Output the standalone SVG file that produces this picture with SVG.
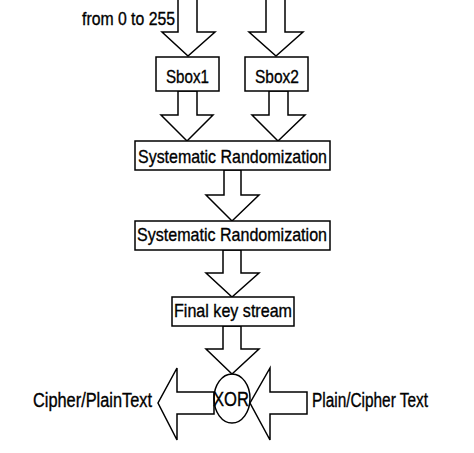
<svg xmlns="http://www.w3.org/2000/svg" width="474" height="453" viewBox="0 0 474 453">
<style>
.box{fill:#fff;stroke:#000;stroke-width:1.5}
.arr{fill:#fff;stroke:#000;stroke-width:1.5;stroke-linejoin:miter}
.t{font-family:"Liberation Sans",Arial,sans-serif;font-size:19px;fill:#000;stroke:#000;stroke-width:0.35}
.tb{font-family:"Liberation Sans",Arial,sans-serif;font-size:20px;fill:#000;stroke:#000;stroke-width:0.35}
</style>
<rect width="474" height="453" fill="#fff"/>
<g id="connectors">
<polygon class="arr" points="178,-2 178,32 162,32 188,56 215,32 197,32 197,-2"/>
<polygon class="arr" points="266,-2 266,32 249,32 276,56 303,32 285,32 285,-2"/>
<polygon class="arr" points="178,91 178,115 161,115 187,141 213,115 197,115 197,91"/>
<polygon class="arr" points="269,91 269,115 252,115 278,141 305,115 288,115 288,91"/>
<polygon class="arr" points="224,170 224,195 206,195 232,221 259,195 241,195 241,170"/>
<polygon class="arr" points="223,250 223,273 206,273 232,297 259,273 241,273 241,250"/>
<polygon class="arr" points="223,326 223,349 206,349 232,374 259,349 241,349 241,326"/>
<polygon class="arr" points="214,392 177,392 177,368 158,403 177,440 177,414 214,414"/>
<polygon class="arr" points="307,392 270,392 270,368 250,403 270,440 270,414 307,414"/>
</g>
<g id="input-label">
<text class="t" x="82" y="25" textLength="93" lengthAdjust="spacingAndGlyphs">from 0 to 255</text>
</g>
<g id="sbox1">
<rect class="box" x="156" y="57" width="63" height="34"/>
<text class="t" x="166" y="83" textLength="43" lengthAdjust="spacingAndGlyphs">Sbox1</text>
</g>
<g id="sbox2">
<rect class="box" x="245" y="57" width="63" height="34"/>
<text class="t" x="255" y="83" textLength="44" lengthAdjust="spacingAndGlyphs">Sbox2</text>
</g>
<g id="sr1">
<rect class="box" x="135" y="141" width="195" height="29"/>
<text class="t" x="138" y="163" textLength="189" lengthAdjust="spacingAndGlyphs">Systematic Randomization</text>
</g>
<g id="sr2">
<rect class="box" x="135" y="221" width="195" height="29"/>
<text class="t" x="137" y="241" textLength="190" lengthAdjust="spacingAndGlyphs">Systematic Randomization</text>
</g>
<g id="final">
<rect class="box" x="172" y="297" width="122" height="29"/>
<text class="t" x="174" y="317" textLength="118" lengthAdjust="spacingAndGlyphs">Final key stream</text>
</g>
<g id="xor">
<ellipse cx="232" cy="398.5" rx="18" ry="24.5" fill="none" stroke="#000" stroke-width="1.5"/>
<text class="tb" x="213" y="406" textLength="36" lengthAdjust="spacingAndGlyphs">XOR</text>
</g>
<g id="output-label">
<text class="tb" x="33" y="407" textLength="119" lengthAdjust="spacingAndGlyphs">Cipher/PlainText</text>
</g>
<g id="input-text-label">
<text class="tb" x="312" y="407" textLength="116" lengthAdjust="spacingAndGlyphs">Plain/Cipher Text</text>
</g>
</svg>
